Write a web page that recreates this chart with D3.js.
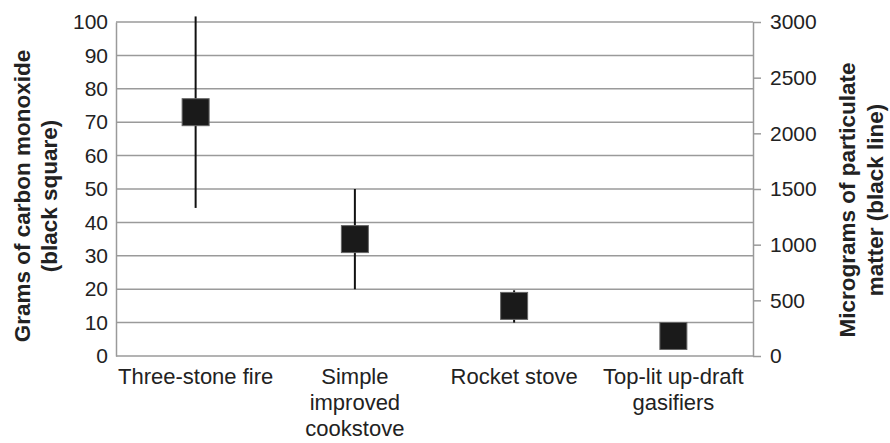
<!DOCTYPE html>
<html>
<head>
<meta charset="utf-8">
<script src="https://cdn.jsdelivr.net/npm/d3@7"></script>
<style>
  body { margin: 0; background: #fff; }
  svg { font-family: "Liberation Sans", Arial, sans-serif; }
</style>
</head>
<body>
<svg id="chart"></svg>
<script>
// categories and values
const categories = ["Three-stone fire", "Simple improved cookstove", "Rocket stove", "Top-lit up-draft gasifiers"];
const categoryLines = [["Three-stone fire"], ["Simple", "improved", "cookstove"], ["Rocket stove"], ["Top-lit up-draft", "gasifiers"]];
const coGrams = [73, 35, 15, 6];           // black squares, left axis
const pmLow = [1330, 600, 300, 120];       // black lines, right axis
const pmHigh = [3050, 1500, 590, 280];
const leftTicks = [0, 10, 20, 30, 40, 50, 60, 70, 80, 90, 100];
const rightTicks = [0, 500, 1000, 1500, 2000, 2500, 3000];

const width = 890, height = 443;
const margin = { top: 22, right: 137, bottom: 87, left: 116 };
const innerW = width - margin.left - margin.right;
const innerH = height - margin.top - margin.bottom;

const svg = d3.select("#chart").attr("width", width).attr("height", height);
const g = svg.append("g").attr("transform", `translate(${margin.left},${margin.top})`);

const x = d3.scaleBand().domain(categories).range([0, innerW]);
const yLeft = d3.scaleLinear().domain([0, 100]).range([innerH, 0]);
const yRight = d3.scaleLinear().domain([0, 3000]).range([innerH, 0]);

// gridlines
g.append("g")
    .selectAll("line")
    .data(leftTicks)
    .join("line")
    .attr("x1", 0)
    .attr("x2", innerW)
    .attr("y1", d => yLeft(d))
    .attr("y2", d => yLeft(d))
    .attr("stroke", "#9a9a9a")
    .attr("stroke-width", 1.5);

// left axis
const leftAxis = g.append("g")
    .call(d3.axisLeft(yLeft).tickValues(leftTicks).tickSize(0).tickPadding(8));
leftAxis.select(".domain").attr("stroke", "#9a9a9a").attr("stroke-width", 1.5);
leftAxis.selectAll("text").attr("font-size", 21).attr("fill", "#222").attr("font-family", null);

// right axis
const rightAxis = g.append("g")
    .attr("transform", `translate(${innerW},0)`)
    .call(d3.axisRight(yRight).tickValues(rightTicks).tickFormat(d3.format("d"))
        .tickSize(8).tickSizeOuter(0).tickPadding(9));
rightAxis.select(".domain").attr("stroke", "#9a9a9a").attr("stroke-width", 1.5);
rightAxis.selectAll(".tick line").attr("stroke", "#9a9a9a").attr("stroke-width", 1.5);
rightAxis.selectAll("text").attr("font-size", 21).attr("fill", "#222").attr("font-family", null);

// category labels
const labels = g.append("g")
    .selectAll("text")
    .data(categories)
    .join("text")
    .attr("text-anchor", "middle")
    .attr("font-size", 22)
    .attr("fill", "#222")
    .attr("x", d => x(d) + x.bandwidth() / 2)
    .attr("y", innerH + 28);
labels.selectAll("tspan")
    .data((d, i) => categoryLines[i])
    .join("tspan")
    .attr("x", function () { return d3.select(this.parentNode).attr("x"); })
    .attr("dy", (d, i) => i === 0 ? 0 : 26)
    .text(d => d);

// particulate matter lines
g.append("g")
    .selectAll("line")
    .data(categories)
    .join("line")
    .attr("x1", d => x(d) + x.bandwidth() / 2)
    .attr("x2", d => x(d) + x.bandwidth() / 2)
    .attr("y1", (d, i) => yRight(pmLow[i]))
    .attr("y2", (d, i) => yRight(pmHigh[i]))
    .attr("stroke", "#111")
    .attr("stroke-width", 2);

// carbon monoxide squares
const sq = 27;
g.append("g")
    .selectAll("rect")
    .data(categories)
    .join("rect")
    .attr("x", d => x(d) + x.bandwidth() / 2 - sq / 2)
    .attr("y", (d, i) => yLeft(coGrams[i]) - sq / 2)
    .attr("width", sq)
    .attr("height", sq)
    .attr("fill", "#1a1a1a")
    .attr("stroke", "#666")
    .attr("stroke-width", 1);

// axis titles
const midY = margin.top + innerH / 2 + 7;
const titles = [
    { text: "Grams of carbon monoxide", x: 30, y: midY },
    { text: "(black square)", x: 57, y: midY },
    { text: "Micrograms of particulate", x: 855, y: midY + 4 },
    { text: "matter (black line)", x: 883, y: midY + 4 }
];
svg.append("g")
    .selectAll("text")
    .data(titles)
    .join("text")
    .attr("transform", d => `translate(${d.x},${d.y}) rotate(-90)`)
    .attr("text-anchor", "middle")
    .attr("font-size", 22.5)
    .attr("font-weight", "bold")
    .attr("fill", "#222")
    .text(d => d.text);
</script>
</body>
</html>
